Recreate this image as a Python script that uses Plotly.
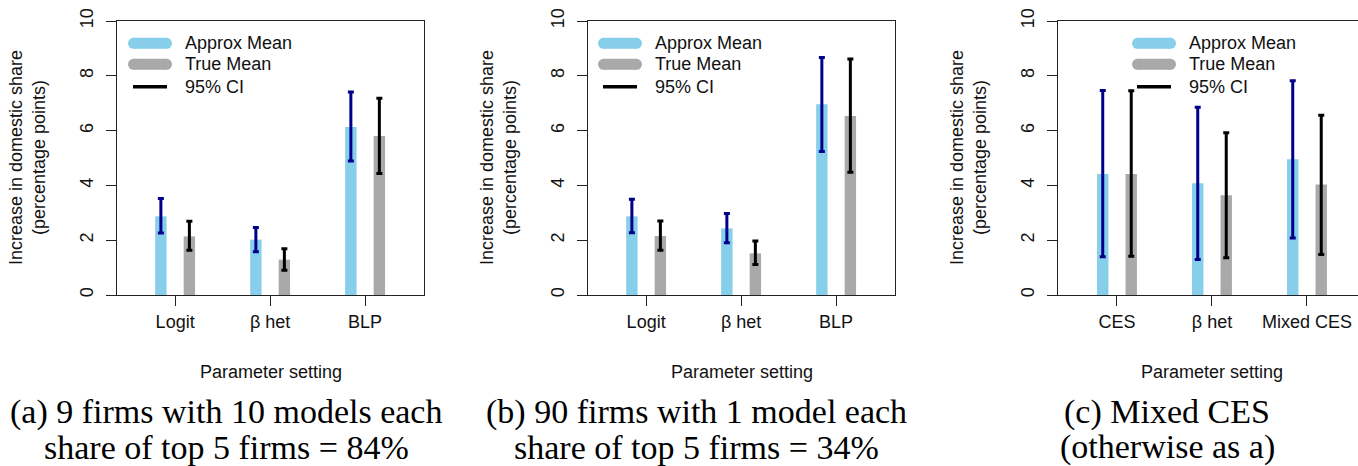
import plotly.graph_objects as go

W, H = 1358, 466

# ---------------- data ----------------
cats_ab = ["Logit", "β het", "BLP"]
cats_c = ["CES", "β het", "Mixed CES"]

# panel (a)
a_approx = [2.87, 2.02, 6.13]
a_approx_lo = [2.26, 1.58, 4.89]
a_approx_hi = [3.52, 2.46, 7.41]
a_true = [2.14, 1.29, 5.80]
a_true_lo = [1.63, 0.90, 4.43]
a_true_hi = [2.69, 1.69, 7.18]

# panel (b)
b_approx = [2.87, 2.43, 6.96]
b_approx_lo = [2.27, 1.91, 5.24]
b_approx_hi = [3.49, 2.97, 8.67]
b_true = [2.15, 1.52, 6.53]
b_true_lo = [1.63, 1.11, 4.48]
b_true_hi = [2.70, 1.97, 8.61]

# panel (c)
c_approx = [4.42, 4.08, 4.95]
c_approx_lo = [1.40, 1.30, 2.08]
c_approx_hi = [7.46, 6.85, 7.82]
c_true = [4.42, 3.64, 4.03]
c_true_lo = [1.41, 1.36, 1.48]
c_true_hi = [7.45, 5.92, 6.56]

y_ticks = [0, 2, 4, 6, 8, 10]
legend_labels = ["Approx Mean", "True Mean", "95% CI"]
y_title = "Increase in domestic share<br>(percentage points)"
x_title = "Parameter setting"
captions = [
    ("(a) 9 firms with 10 models each", "share of top 5 firms = 84%"),
    ("(b) 90 firms with 1 model each", "share of top 5 firms = 34%"),
    ("(c) Mixed CES", "(otherwise as a)"),
]

# ---------------- styles ----------------
C_APPROX = "#87CEEB"
C_TRUE = "#A9A9A9"
C_CI_APPROX = "#00008B"
C_CI_TRUE = "#000000"
SANS = "Liberation Sans"
SERIF = "Liberation Serif"

def px(x):
    return x / W

def py(y):
    return 1 - y / H

# panel geometry (pixels)
panels = [
    dict(x0=117, x1=424, center=270.5, cats=cats_ab, rng=[-0.612, 2.62], mirror=True, leg_x=128,
         data=(a_approx, a_approx_lo, a_approx_hi, a_true, a_true_lo, a_true_hi), cap_x=226),
    dict(x0=588, x1=895, center=741.7, cats=cats_ab, rng=[-0.612, 2.62], mirror=True, leg_x=598,
         data=(b_approx, b_approx_lo, b_approx_hi, b_true, b_true_lo, b_true_hi), cap_x=697),
    dict(x0=1058, x1=1358, center=1212.3, cats=cats_c, rng=[-0.621, 2.537], mirror=False, leg_x=1132,
         data=(c_approx, c_approx_lo, c_approx_hi, c_true, c_true_lo, c_true_hi), cap_x=1167),
]
Y_TOP, Y_BOT = 21, 295

fig = go.Figure()
shapes = []
annotations = []

for i, p in enumerate(panels):
    sfx = "" if i == 0 else str(i + 1)
    xa, ya = "x" + sfx, "y" + sfx
    ap, ap_lo, ap_hi, tr, tr_lo, tr_hi = p["data"]
    fig.add_trace(go.Bar(
        x=p["cats"], y=ap, marker=dict(color=C_APPROX, line=dict(width=0)),
        error_y=dict(type="data", symmetric=False,
                     array=[h - m for h, m in zip(ap_hi, ap)],
                     arrayminus=[m - l for m, l in zip(ap, ap_lo)],
                     color=C_CI_APPROX, thickness=3, width=3),
        xaxis=xa, yaxis=ya, showlegend=False, name=legend_labels[0]))
    fig.add_trace(go.Bar(
        x=p["cats"], y=tr, marker=dict(color=C_TRUE, line=dict(width=0)),
        error_y=dict(type="data", symmetric=False,
                     array=[h - m for h, m in zip(tr_hi, tr)],
                     arrayminus=[m - l for m, l in zip(tr, tr_lo)],
                     color=C_CI_TRUE, thickness=3, width=3),
        xaxis=xa, yaxis=ya, showlegend=False, name=legend_labels[1]))

    xdom = [px(p["x0"]), px(p["x1"])]
    ydom = [py(Y_BOT), py(Y_TOP)]
    fig.layout["xaxis" + sfx] = dict(
        domain=xdom, anchor=ya, type="category", range=p["rng"], automargin=False,
        showline=True, linecolor="#222", linewidth=1.4, mirror=True,
        ticks="outside", ticklen=10, tickwidth=1.3, tickcolor="#222",
        showgrid=False, zeroline=False, fixedrange=True,
        tickfont=dict(family=SANS, size=18, color="#111"))
    fig.layout["yaxis" + sfx] = dict(
        domain=ydom, anchor=xa, range=[0, 10], tickvals=y_ticks, automargin=False,
        showline=True, linecolor="#222", linewidth=1.4, mirror=p["mirror"],
        ticks="outside", ticklen=10, tickwidth=1.3, tickcolor="#222",
        tickangle=-90, ticklabelstandoff=6,
        showgrid=False, zeroline=False, fixedrange=True,
        tickfont=dict(family=SANS, size=18, color="#111"))

    # y title
    annotations.append(dict(text=y_title, x=px(p["x0"] - 89), y=py(158), xref="paper", yref="paper",
                            textangle=-90, showarrow=False, xanchor="center", yanchor="middle",
                            font=dict(family=SANS, size=18, color="#111")))
    # x title
    annotations.append(dict(text=x_title, x=px(p["center"]), y=py(372), xref="paper", yref="paper",
                            showarrow=False, xanchor="center", yanchor="middle",
                            font=dict(family=SANS, size=18, color="#111")))
    # captions
    annotations.append(dict(text=captions[i][0], x=px(p["cap_x"]), y=py(412), xref="paper", yref="paper",
                            showarrow=False, xanchor="center", yanchor="middle",
                            font=dict(family=SERIF, size=34, color="#000")))
    annotations.append(dict(text=captions[i][1], x=px(p["cap_x"]), y=py(447), xref="paper", yref="paper",
                            showarrow=False, xanchor="center", yanchor="middle",
                            font=dict(family=SERIF, size=34, color="#000")))

    # legend
    lx = p["leg_x"]
    for k, (col, yc) in enumerate([(C_APPROX, 43.3), (C_TRUE, 64.3)]):
        r = 5.5
        shapes.append(dict(type="rect", xref="paper", yref="paper",
                           x0=px(lx + r), x1=px(lx + 44 - r), y0=py(yc + r), y1=py(yc - r),
                           fillcolor=col, line=dict(width=0), layer="above"))
        for cx in (lx + r, lx + 44 - r):
            shapes.append(dict(type="circle", xref="paper", yref="paper",
                               x0=px(cx - r), x1=px(cx + r), y0=py(yc + r), y1=py(yc - r),
                               fillcolor=col, line=dict(width=0), layer="above"))
    shapes.append(dict(type="line", xref="paper", yref="paper",
                       x0=px(lx + 5), x1=px(lx + 39), y0=py(86.7), y1=py(86.7),
                       line=dict(color="#000", width=3.5), layer="above"))
    for k, yc in enumerate([43.3, 64.3, 86.7]):
        annotations.append(dict(text=legend_labels[k], x=px(lx + 55), y=py(yc), xref="paper", yref="paper",
                                showarrow=False, xanchor="left", yanchor="middle",
                                font=dict(family=SANS, size=18, color="#111")))

fig.update_layout(
    width=W, height=H, margin=dict(l=0, r=0, t=0, b=0, autoexpand=False),
    paper_bgcolor="white", plot_bgcolor="white",
    barmode="group", bargap=0.4, bargroupgap=0.6,
    shapes=shapes, annotations=annotations, showlegend=False,
)

fig.write_html("out.html")
